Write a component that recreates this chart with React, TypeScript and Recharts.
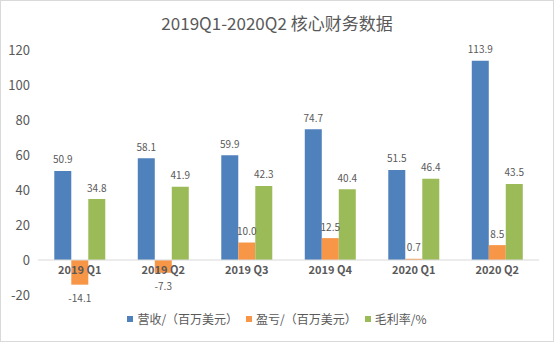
import { BarChart, Bar, XAxis, YAxis, LabelList, ReferenceLine } from 'recharts';

const quarters = ['2019 Q1', '2019 Q2', '2019 Q3', '2019 Q4', '2020 Q1', '2020 Q2'];
const revenue = [50.9, 58.1, 59.9, 74.7, 51.5, 113.9];
const profit = [-14.1, -7.3, 10.0, 12.5, 0.7, 8.5];
const grossMargin = [34.8, 41.9, 42.3, 40.4, 46.4, 43.5];
const yTicks = [-20, 0, 20, 40, 60, 80, 100, 120];

const data = quarters.map((name, i) => ({
  name,
  revenue: revenue[i],
  profit: profit[i],
  grossMargin: grossMargin[i],
}));

const series = [
  { key: 'revenue', name: '营收/（百万美元）', color: '#4F81BD' },
  { key: 'profit', name: '盈亏/（百万美元）', color: '#F79646' },
  { key: 'grossMargin', name: '毛利率/%', color: '#9BBB59' },
];

const FONT = '"Noto Sans CJK SC", "Noto Sans", sans-serif';
const TEXT = '#595959';

// value label above positive bars, below negative ones
function ValueLabel(props: any) {
  const { x, y, width, height, value } = props;
  const neg = Number(value) < 0;
  const edge = neg ? y : y;
  return (
    <text
      x={x + width / 2}
      y={neg ? edge + 13 : edge - 12}
      textAnchor="middle"
      dominantBaseline="central"
      fontFamily={FONT}
      fontSize={10}
      fill={TEXT}
    >
      {Number(value).toFixed(1)}
    </text>
  );
}

// category name drawn just under the zero line (zero = y + height for both signs)
function CategoryLabel(props: any) {
  const { x, y, width, height, value } = props;
  const zeroY = y + height;
  return (
    <text
      x={x + width / 2}
      y={zeroY + 9}
      textAnchor="middle"
      dominantBaseline="central"
      fontFamily={FONT}
      fontSize={11}
      fontWeight="bold"
      fill={TEXT}
    >
      {value}
    </text>
  );
}

export default function App() {
  return (
    <div
      style={{
        position: 'fixed',
        top: 0,
        left: 0,
        width: 554,
        height: 342,
        boxSizing: 'border-box',
        border: '1px solid #d9d9d9',
        background: '#fff',
        fontFamily: FONT,
      }}
    >
      <div
        style={{
          position: 'absolute',
          top: 10,
          left: 0,
          width: 552,
          textAlign: 'center',
          fontSize: 17,
          color: TEXT,
          lineHeight: '24px',
        }}
      >
        2019Q1-2020Q2 核心财务数据
      </div>
      <BarChart
        width={552}
        height={340}
        data={data}
        margin={{ top: 49, right: 14, bottom: 46, left: 7 }}
        barCategoryGap="19.5%"
        barGap={0}
      >
        <XAxis dataKey="name" hide />
        <YAxis
          width={30}
          domain={[-20, 120]}
          ticks={yTicks}
          axisLine={false}
          tickLine={false}
          tick={{ fill: TEXT, fontSize: 13, fontFamily: FONT }}
        />
        <ReferenceLine y={0} stroke="#d9d9d9" strokeWidth={1} />
        {series.map((s) => (
          <Bar key={s.key} dataKey={s.key} name={s.name} fill={s.color} isAnimationActive={false}>
            <LabelList dataKey={s.key} content={ValueLabel} />
            {s.key === 'profit' && <LabelList dataKey="name" content={CategoryLabel} />}
          </Bar>
        ))}
      </BarChart>
      <div
        style={{
          position: 'absolute',
          top: 309,
          left: 0,
          width: 552,
          display: 'flex',
          justifyContent: 'center',
          gap: 8,
          fontSize: 12,
          lineHeight: '18px',
          color: TEXT,
        }}
      >
        {series.map((s) => (
          <div key={s.key} style={{ display: 'flex', alignItems: 'center' }}>
            <span style={{ width: 6, height: 6, background: s.color, marginRight: 4, display: 'inline-block' }} />
            <span>{s.name}</span>
          </div>
        ))}
      </div>
    </div>
  );
}
